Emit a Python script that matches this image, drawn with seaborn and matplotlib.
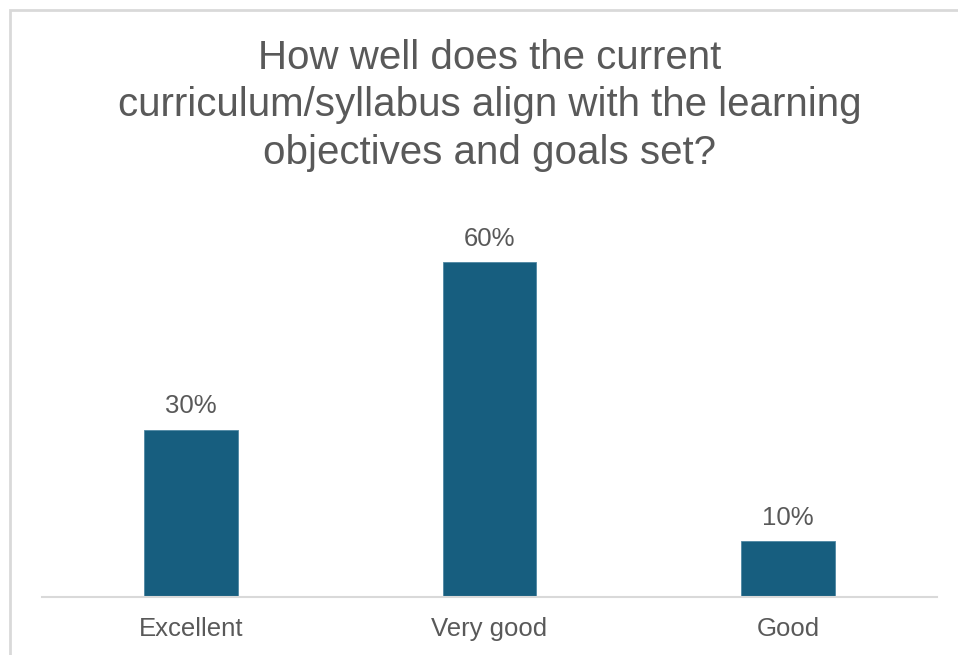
import matplotlib
matplotlib.use("Agg")
import matplotlib.pyplot as plt
import matplotlib.patches as mpatches
import seaborn as sns
import pandas as pd

categories = ["Excellent", "Very good", "Good"]
shares = [30, 60, 10]
title = "How well does the current\ncurriculum/syllabus align with the learning\nobjectives and goals set?"

sns.set_theme(style="white")
plt.rcParams["font.family"] = ["Liberation Sans", "DejaVu Sans"]

W, H = 958, 655
fig = plt.figure(figsize=(W / 100, H / 100), dpi=100)
px_per_pct = 558.3 / 100
ymax = 70
ax = fig.add_axes([42 / W, 1 - 597 / H, (937 - 42) / W, ymax * px_per_pct / H])

df = pd.DataFrame({"category": categories, "share": shares})
sns.barplot(data=df, x="category", y="share", color="#175e7f", width=0.315,
            saturation=1, edgecolor="#4f87a3", linewidth=0.6, ax=ax)

ax.set_xlim(-0.5, 2.5)
ax.set_ylim(0, ymax)
for c in ax.containers:
    ax.bar_label(c, labels=[f"{v:.0f}%" for v in c.datavalues], padding=8,
                 fontsize=18.5, color="#595959")

for s in ["top", "right", "left"]:
    ax.spines[s].set_visible(False)
ax.spines["bottom"].set_color("#d9d9d9")
ax.spines["bottom"].set_linewidth(1.5)
ax.set_yticks([])
ax.set_xlabel("")
ax.set_ylabel("")
ax.tick_params(axis="x", length=0, pad=14.5, labelsize=18.5, labelcolor="#595959")

fig.text(489.5 / W, 1 - 39 / H, title, ha="center", va="top", fontsize=29,
         color="#595959", linespacing=1.31)

# chart-area frame
frame = mpatches.Rectangle((10 / W, -0.05), 1.1, 1 - 9.5 / H + 0.05,
                           transform=fig.transFigure, fill=False,
                           edgecolor="#d9d9d9", linewidth=2, clip_on=False)
fig.patches.append(frame)

fig.savefig("out.png", dpi=100, facecolor="white")
